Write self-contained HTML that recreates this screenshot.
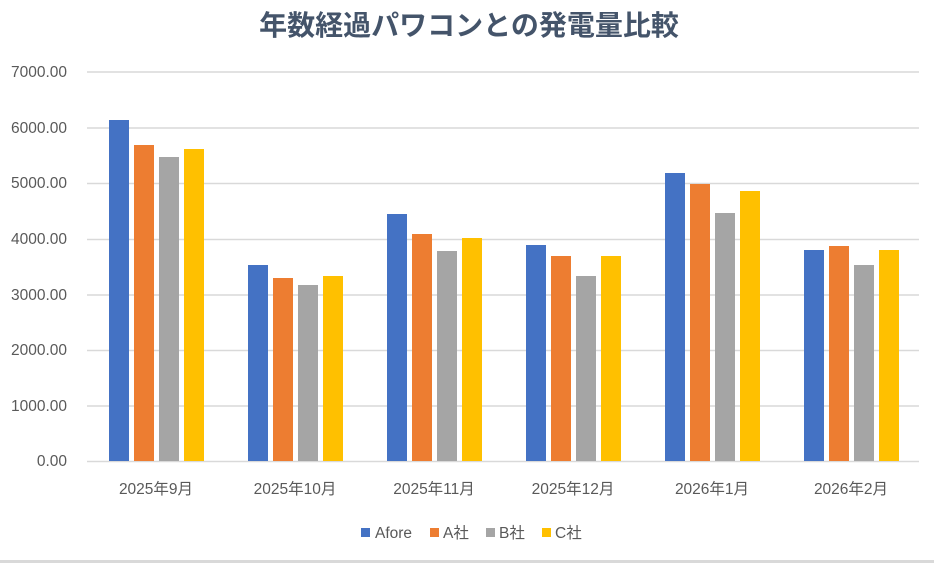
<!DOCTYPE html>
<html><head><meta charset="utf-8"><style>
html,body{margin:0;padding:0;background:#fff;}
svg{display:block;font-family:"Liberation Sans","Noto Sans CJK JP",sans-serif;}
</style></head><body>
<svg width="934" height="563" viewBox="0 0 934 563" xmlns="http://www.w3.org/2000/svg">
<rect width="934" height="563" fill="#fff"/>
<text x="469" y="35" text-anchor="middle" font-size="28" font-weight="bold" fill="#44546A" font-family="'Noto Sans CJK JP',sans-serif">年数経過パワコンとの発電量比較</text>
<g stroke="#d9d9d9" stroke-width="1.5">
<line x1="87" x2="919" y1="72" y2="72"/>
<line x1="87" x2="919" y1="128" y2="128"/>
<line x1="87" x2="919" y1="183.5" y2="183.5"/>
<line x1="87" x2="919" y1="239.5" y2="239.5"/>
<line x1="87" x2="919" y1="295" y2="295"/>
<line x1="87" x2="919" y1="350.5" y2="350.5"/>
<line x1="87" x2="919" y1="406" y2="406"/>
<line x1="87" x2="919" y1="461.5" y2="461.5"/>
</g>
<g font-size="15.5" fill="#595959" text-anchor="end">
<text x="67" y="77">7000.00</text>
<text x="67" y="133">6000.00</text>
<text x="67" y="188">5000.00</text>
<text x="67" y="244">4000.00</text>
<text x="67" y="300">3000.00</text>
<text x="67" y="355">2000.00</text>
<text x="67" y="411">1000.00</text>
<text x="67" y="466">0.00</text>
</g>
<g>
<rect x="109" y="120" width="20" height="341" fill="#4472C4"/>
<rect x="134" y="145" width="20" height="316" fill="#ED7D31"/>
<rect x="159" y="157" width="20" height="304" fill="#A5A5A5"/>
<rect x="184" y="149" width="20" height="312" fill="#FFC000"/>

<rect x="248" y="265" width="20" height="196" fill="#4472C4"/>
<rect x="273" y="278" width="20" height="183" fill="#ED7D31"/>
<rect x="298" y="285" width="20" height="176" fill="#A5A5A5"/>
<rect x="323" y="276" width="20" height="185" fill="#FFC000"/>

<rect x="387" y="214" width="20" height="247" fill="#4472C4"/>
<rect x="412" y="234" width="20" height="227" fill="#ED7D31"/>
<rect x="437" y="251" width="20" height="210" fill="#A5A5A5"/>
<rect x="462" y="238" width="20" height="223" fill="#FFC000"/>

<rect x="526" y="245" width="20" height="216" fill="#4472C4"/>
<rect x="551" y="256" width="20" height="205" fill="#ED7D31"/>
<rect x="576" y="276" width="20" height="185" fill="#A5A5A5"/>
<rect x="601" y="256" width="20" height="205" fill="#FFC000"/>

<rect x="665" y="173" width="20" height="288" fill="#4472C4"/>
<rect x="690" y="184" width="20" height="277" fill="#ED7D31"/>
<rect x="715" y="213" width="20" height="248" fill="#A5A5A5"/>
<rect x="740" y="191" width="20" height="270" fill="#FFC000"/>

<rect x="804" y="250" width="20" height="211" fill="#4472C4"/>
<rect x="829" y="246" width="20" height="215" fill="#ED7D31"/>
<rect x="854" y="265" width="20" height="196" fill="#A5A5A5"/>
<rect x="879" y="250" width="20" height="211" fill="#FFC000"/>
</g>
<g font-size="15.5" fill="#595959" text-anchor="middle">
<text x="156" y="494">2025年9月</text>
<text x="295" y="494">2025年10月</text>
<text x="434" y="494">2025年11月</text>
<text x="573" y="494">2025年12月</text>
<text x="712" y="494">2026年1月</text>
<text x="851" y="494">2026年2月</text>
</g>
<g font-size="15.5" fill="#595959">
<rect x="361" y="528" width="9" height="9" fill="#4472C4"/><text x="375" y="538">Afore</text>
<rect x="430" y="528" width="9" height="9" fill="#ED7D31"/><text x="443" y="538">A社</text>
<rect x="486" y="528" width="9" height="9" fill="#A5A5A5"/><text x="499" y="538">B社</text>
<rect x="542" y="528" width="9" height="9" fill="#FFC000"/><text x="555" y="538">C社</text>
</g>
<rect x="0" y="560" width="934" height="3" fill="#d9d9d9"/>
</svg>
</body></html>
